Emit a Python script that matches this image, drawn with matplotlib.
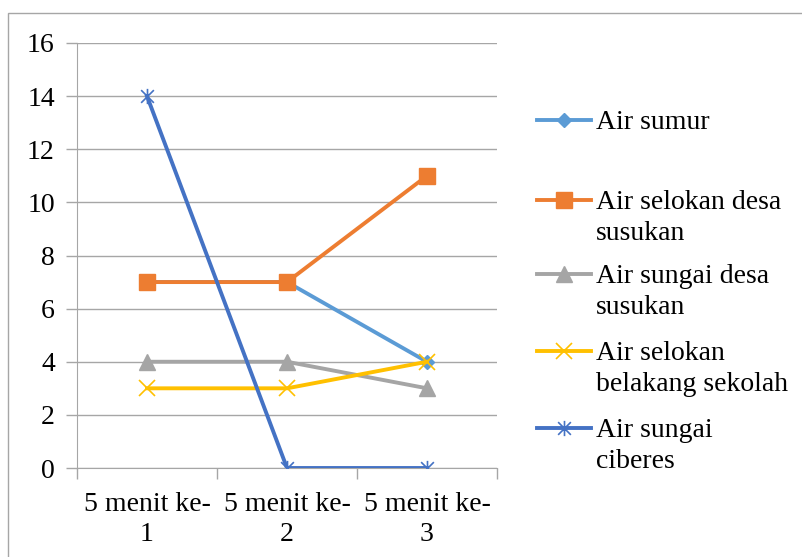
import matplotlib.pyplot as plt
from matplotlib.lines import Line2D
from matplotlib.patches import Rectangle
from matplotlib.path import Path

plt.rcParams['font.family'] = ['Liberation Serif', 'DejaVu Serif']
plt.rcParams['font.size'] = 20

categories = ['5 menit ke-\n1', '5 menit ke-\n2', '5 menit ke-\n3']
air_sumur = [7, 7, 4]
air_selokan_desa = [7, 7, 11]
air_sungai_desa = [4, 4, 3]
air_selokan_sekolah = [3, 3, 4]
air_sungai_ciberes = [14, 0, 0]

# Excel-style star marker: an x crossed with a vertical bar
star = Path([(-1, -1), (1, 1), (-1, 1), (1, -1), (0, -1.2), (0, 1.2)],
            [Path.MOVETO, Path.LINETO, Path.MOVETO, Path.LINETO, Path.MOVETO, Path.LINETO])

series = [
    ('Air sumur', air_sumur, '#5B9BD5', dict(marker='D', markersize=7)),
    ('Air selokan desa\nsusukan', air_selokan_desa, '#ED7D31', dict(marker='s', markersize=11)),
    ('Air sungai desa\nsusukan', air_sungai_desa, '#A5A5A5', dict(marker='^', markersize=12)),
    ('Air selokan\nbelakang sekolah', air_selokan_sekolah, '#FFC000',
     dict(marker='x', markersize=11, markeredgewidth=1.2)),
    ('Air sungai\nciberes', air_sungai_ciberes, '#4472C4',
     dict(marker=star, markersize=11, markeredgewidth=1.2, markerfacecolor='none')),
]

W, H = 803, 557
fig = plt.figure(figsize=(W / 100, H / 100), dpi=100)
fig.patches.append(Rectangle((8 / W, -0.1), 1.2, 1.1 - 13 / H, transform=fig.transFigure,
                             fill=False, edgecolor='#A6A6A6', linewidth=1))

ax = fig.add_axes([77 / W, (H - 468) / H, 420 / W, 425 / H])
x = [1, 2, 3]
for label, vals, color, mk in series:
    ax.plot(x, vals, color=color, linewidth=2.8, markeredgecolor=color, zorder=3, **mk)

ax.set_xlim(0.5, 3.5)
ax.set_ylim(0, 16)
ax.set_yticks(range(0, 17, 2))
ax.yaxis.grid(True, color='#A6A6A6', linewidth=1)
ax.set_axisbelow(True)
for s in ['top', 'right']:
    ax.spines[s].set_visible(False)
for s in ['left', 'bottom']:
    ax.spines[s].set_color('#A6A6A6')
ax.tick_params(axis='y', length=8, width=1, color='#A6A6A6', pad=8)
ax.set_xticks([0.5, 1.5, 2.5, 3.5])
ax.set_xticklabels([])
ax.tick_params(axis='x', which='major', length=8, width=1, color='#A6A6A6')
ax.set_xticks(x, minor=True)
ax.set_xticklabels(categories, minor=True, linespacing=1.3)
ax.tick_params(axis='x', which='minor', length=0, pad=17)

# legend drawn entry by entry so the marker sits on the first text line
legend_y = [120, 200, 274, 351, 428]
for (label, vals, color, mk), yy in zip(series, legend_y):
    yf = 1 - yy / H
    fig.add_artist(Line2D([537 / W, 591 / W], [yf, yf], transform=fig.transFigure,
                          color=color, linewidth=2.8, zorder=3))
    fig.add_artist(Line2D([564 / W], [yf], transform=fig.transFigure, color=color,
                          linestyle='none', markeredgecolor=color, **mk))
    fig.text(596 / W, yf + 10 / H, label, va='top', ha='left', linespacing=1.3)

fig.savefig('out.png', dpi=100)
